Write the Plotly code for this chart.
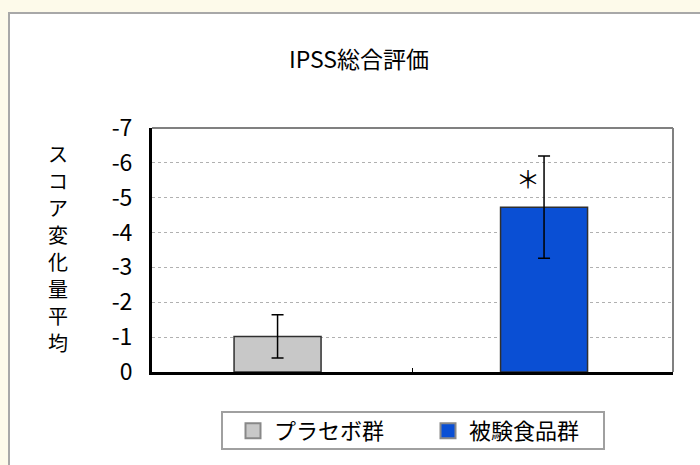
import plotly.graph_objects as go

# ---- data ----
categories = ["プラセボ群", "被験食品群"]
series_names = ["プラセボ群", "被験食品群"]
means = [-1.02, -4.73]
errors = [0.62, 1.47]
bar_colors = ["#c8c8c8", "#0a4fd4"]
y_tick_vals = [0, -1, -2, -3, -4, -5, -6, -7]
y_tick_text = ["0", "-1", "-2", "-3", "-4", "-5", "-6", "-7"]
title_text = "IPSS総合評価"
y_title = "スコア変化量平均"
sig_mark = "＊"
sig_y = -5.57

FONT = "Noto Sans CJK JP"

W, H = 700, 465
L, R, T, B = 152, 27, 128, 93
pw = W - L - R
ph = H - T - B


def px_x(x):
    return (x - L) / pw


def px_y(y):
    return (H - B - y) / ph


fig = go.Figure()
offsets = [-0.185, -0.162]
for i in range(2):
    fig.add_trace(go.Bar(
        x=[categories[i]], y=[means[i]], name=series_names[i], showlegend=False,
        marker=dict(color=bar_colors[i], line=dict(color="#303030", width=1.5)),
        width=0.334, offset=offsets[i],
        error_y=dict(type="data", array=[errors[i]], visible=True,
                     color="black", thickness=1.5, width=6),
    ))
# legend entries (square swatches)
for i in range(2):
    fig.add_trace(go.Scatter(
        x=[None], y=[None], mode="markers", name=series_names[i],
        marker=dict(symbol="square", size=15, color=bar_colors[i],
                    line=dict(color="#888888", width=2)),
    ))

# white panel with grey border on cream background
fig.add_shape(type="rect", xref="paper", yref="paper",
              x0=px_x(9), x1=px_x(710), y0=px_y(13), y1=px_y(480),
              fillcolor="white", line=dict(color="#a8a8a8", width=2), layer="below")
# top and right plot borders (grey)
fig.add_shape(type="line", xref="paper", yref="paper", x0=0, x1=1, y0=1, y1=1,
              line=dict(color="#808080", width=2))
fig.add_shape(type="line", xref="paper", yref="paper", x0=1, x1=1, y0=0, y1=1,
              line=dict(color="#808080", width=2))
# legend frame
fig.add_shape(type="rect", xref="paper", yref="paper",
              x0=px_x(222), x1=px_x(604), y0=px_y(412), y1=px_y(449),
              fillcolor="white", line=dict(color="#a0a0a0", width=2), layer="below")

fig.add_annotation(x=categories[1], y=sig_y, text=sig_mark, showarrow=False,
                   xshift=-15, font=dict(size=24, color="black", family=FONT))

# vertical (stacked) axis title, one character per row
chars = list(y_title)
for k, ch in enumerate(chars):
    fig.add_annotation(xref="paper", yref="paper", x=px_x(58), y=px_y(153 + 27 * k),
                       text=ch, showarrow=False,
                       font=dict(size=20, color="black", family=FONT),
                       xanchor="center", yanchor="middle")

fig.update_layout(
    width=W, height=H,
    margin=dict(l=L, r=R, t=T, b=B, pad=0),
    paper_bgcolor="#fdfaea",
    plot_bgcolor="white",
    barmode="overlay",
    font=dict(family=FONT, size=22, color="black"),
    title=dict(text=title_text, x=px_x(359), xanchor="center", xref="paper",
               y=1 - 60 / H, yanchor="middle",
               font=dict(size=23, family=FONT, color="black")),
    showlegend=True,
    legend=dict(orientation="h", x=px_x(232), xanchor="left", y=px_y(410), yanchor="top",
                borderwidth=0, bgcolor="rgba(0,0,0,0)",
                font=dict(size=22, family=FONT, color="black"),
                entrywidth=148, itemwidth=32, itemsizing="trace"),
    xaxis=dict(type="category", showticklabels=False, showgrid=False,
               showline=True, linecolor="black", linewidth=3,
               ticks="inside", tickson="boundaries", ticklen=4, tickcolor="black",
               tickwidth=1, range=[-0.5, 1.5], zeroline=False),
    yaxis=dict(range=[0, -7], tickvals=y_tick_vals, ticktext=y_tick_text,
               showgrid=True, gridcolor="#b0b0b0", griddash="dot", gridwidth=1,
               showline=True, linecolor="black", linewidth=3, zeroline=False,
               ticks="", ticklabelstandoff=12,
               tickfont=dict(size=23, family=FONT, color="black")),
)

fig.write_html("out.html", post_script="document.body.style.margin='0px';",
               config={"displayModeBar": False})
